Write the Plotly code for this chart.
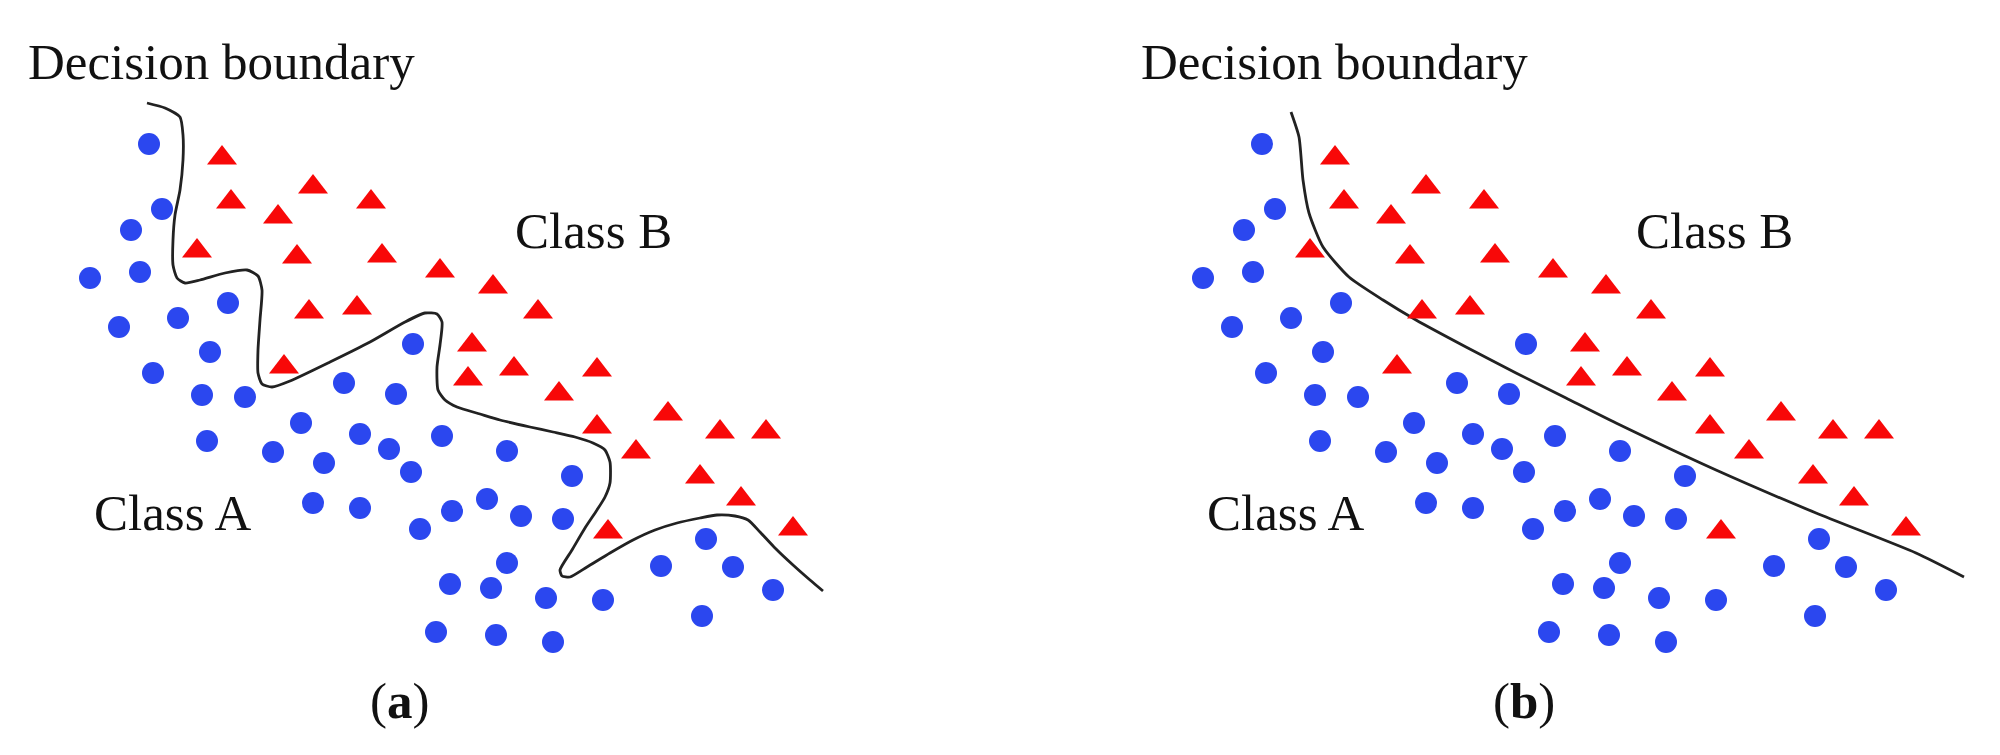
import plotly.graph_objects as go

# Same point cloud is drawn in both panels (a) and (b).
# Coordinates (panel a frame, y grows downward).
class_a_x = [149, 162, 131, 90, 140, 228, 119, 178, 210, 153, 202, 245, 207, 301, 273,
             344, 396, 413, 360, 389, 324, 411, 442, 313, 360, 420, 452, 507, 572, 487,
             521, 563, 507, 450, 491, 546, 603, 661, 706, 733, 773, 702, 436, 496, 553]
class_a_y = [144, 209, 230, 278, 272, 303, 327, 318, 352, 373, 395, 397, 441, 423, 452,
             383, 394, 344, 434, 449, 463, 472, 436, 503, 508, 529, 511, 451, 476, 499,
             516, 519, 563, 584, 588, 598, 600, 566, 539, 567, 590, 616, 632, 635, 642]

class_b_x = [222, 313, 231, 278, 371, 197, 297, 382, 440, 309, 357, 284, 493, 538,
             472, 468, 514, 597, 559, 597, 668, 720, 766, 636, 700, 741, 608, 793]
class_b_y = [158, 187, 202, 217, 202, 251, 257, 256, 271, 312, 308, 367, 287, 312,
             345, 379, 369, 370, 394, 427, 414, 432, 432, 452, 477, 499, 532, 529]

# wiggly boundary of panel (a)
wiggly_x = [147, 165, 180, 183, 183, 180, 175, 173, 173, 177, 185, 200, 225, 247, 258,
            262, 260, 258, 258, 262, 272, 290, 330, 370, 405, 425, 437, 442, 440, 437,
            438, 445, 457, 480, 500, 530, 553, 575, 593, 605, 610, 610, 605, 597, 585,
            572, 560, 562, 570, 587, 610, 633, 655, 677, 700, 717, 735, 748, 760, 775,
            793, 810, 823]
wiggly_y = [103, 108, 117, 135, 160, 190, 215, 240, 265, 278, 283, 280, 273, 270, 276,
            290, 320, 350, 373, 384, 387, 381, 362, 342, 322, 313, 314, 322, 345, 367,
            390, 400, 407, 414, 420, 427, 432, 437, 443, 450, 462, 483, 497, 510, 528,
            550, 570, 576, 577, 567, 553, 540, 530, 523, 518, 515, 516, 520, 532, 548,
            565, 580, 591]

# smooth boundary of panel (b)
smooth_x = [178, 186, 190, 196, 210, 236, 270, 303, 353, 403, 453, 503, 603, 703, 803, 851]
smooth_y = [112, 137, 180, 213, 247, 277, 300, 320, 347, 373, 398, 423, 470, 513, 553, 577]

BLUE = "#2b47ef"
RED = "#f80808"
FONT = "Liberation Serif, Times New Roman, serif"

fig = go.Figure()

for xa, ya, boundary_x, boundary_y in [("x", "y", wiggly_x, wiggly_y),
                                      ("x2", "y2", smooth_x, smooth_y)]:
  fig.add_trace(go.Scatter(x=boundary_x, y=boundary_y, mode="lines",
                           line=dict(color="#222222", width=2.8, shape="spline", smoothing=0.6),
                           xaxis=xa, yaxis=ya, hoverinfo="skip"))
  fig.add_trace(go.Scatter(x=class_a_x, y=class_a_y, mode="markers", name="Class A",
                           marker=dict(symbol="circle", size=22, color=BLUE, line=dict(width=0)),
                           xaxis=xa, yaxis=ya))
  fig.add_trace(go.Scatter(x=class_b_x, y=class_b_y, mode="markers", name="Class B",
                           marker=dict(symbol="triangle-up", size=26, color=RED, line=dict(width=0)),
                           xaxis=xa, yaxis=ya))

def label(text, x, y, xref, yref, xanchor="center"):
  fig.add_annotation(text=text, x=x, y=y, xref=xref, yref=yref, showarrow=False,
                     xanchor=xanchor, yanchor="middle", borderpad=0,
                     font=dict(family=FONT, size=51, color="#111111"))

label("Decision boundary", 27, 62, "x", "y", xanchor="left")
label("Class B", 593, 231, "x", "y")
label("Class A", 172, 513, "x", "y")
label("(<b>a</b>)", 399, 701, "x", "y")

label("Decision boundary", 27, 62, "x2", "y2", xanchor="left")
label("Class B", 601, 231, "x2", "y2")
label("Class A", 172, 513, "x2", "y2")
label("(<b>b</b>)", 411, 701, "x2", "y2")

hidden = dict(visible=False, showgrid=False, zeroline=False)
fig.update_layout(
  width=2000, height=755,
  margin=dict(l=0, r=0, t=0, b=0),
  paper_bgcolor="white", plot_bgcolor="white",
  showlegend=False,
  xaxis=dict(domain=[0, 0.5], range=[0, 1000], **hidden),
  yaxis=dict(domain=[0, 1], range=[755, 0], **hidden),
  xaxis2=dict(domain=[0.5, 1], range=[-113, 887], anchor="y2", **hidden),
  yaxis2=dict(domain=[0, 1], range=[755, 0], anchor="x2", **hidden),
)

# the default page keeps the browser's 8px body margin; drop it so the figure sits at 0,0
fig.write_html("out.html", config={"displayModeBar": False},
               post_script="document.body.style.margin='0';document.body.style.overflow='hidden';")
